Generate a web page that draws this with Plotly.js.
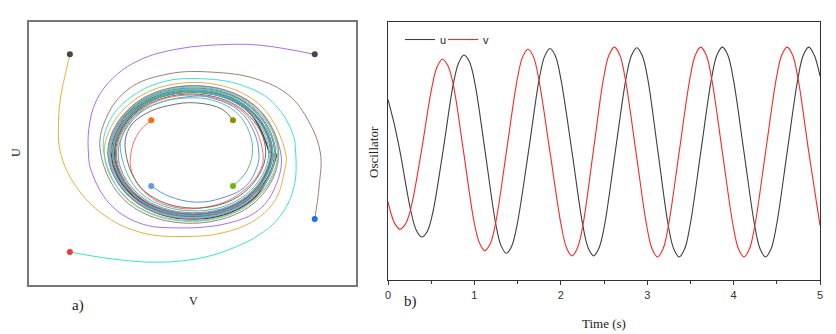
<!DOCTYPE html>
<html>
<head>
<meta charset="utf-8">
<script src="https://cdn.plot.ly/plotly-3.0.1.min.js"></script>
<style>html,body{margin:0;padding:0;background:#fff;}#chart{width:836px;height:334px;}</style>
</head>
<body>
<div id="chart"></div>
<script>
// ---- Panel a: phase portrait (V horizontal, U vertical) ----
const startV = [-3.03, 3.02, -1.02, 1.0, -1.02, 1.0, 3.02, -3.03];
const startU = [2.99, 2.99, 0.99, 0.99, -1.0, -1.0, -2.0, -3.0];
const startColors = ['#464646', '#464646', '#ff6a13', '#8f8f00', '#6a9ad8', '#6cb800', '#1f6fe8', '#f03a3a'];

const purpleV = [3.02, 1.72, 0.90, -0.33, -1.32, -1.98, -2.39, -2.56, -2.57, -2.51, -2.06, -1.32, -0.33, 0.90, 1.64, 2.05, 2.18, 1.52, 0, -1.49, -2.09, -1.47, 0, 1.455, 2.05, 1.444, 0, -1.435, -2.026, -1.43, 0, 1.425, 2.014];
const purpleU = [2.99, 3.26, 3.29, 3.16, 2.81, 2.25, 1.55, 0.74, -0.03, -0.51, -1.52, -2.12, -2.27, -2.12, -1.72, -1.01, 0, 1.46, 2.045, 1.43, 0, -1.41, -1.985, -1.40, 0, 1.387, 1.955, 1.378, 0, -1.373, -1.937, -1.369, 0];

const goldV = [-3.03, -3.13, -3.25, -3.31, -3.26, -2.88, -2.14, -1.24, -0.25, 0.74, 1.56, 2.05, 2.26, 2.30, 1.60, 0, -1.555, -2.18, -1.524, 0, 1.495, 2.098, 1.473, 0, -1.458, -2.054, -1.447, 0, 1.438, 2.03];
const goldU = [2.99, 2.45, 1.75, 0.94, 0, -1.01, -1.92, -2.42, -2.53, -2.42, -2.02, -1.41, -0.61, 0, 1.53, 2.14, 1.494, 0, -1.464, -2.05, -1.435, 0, 1.415, 1.989, 1.40, 0, -1.389, -1.958, -1.381, 0];

const brownV = [3.02, 3.13, 3.16, 2.88, 2.38, 1.56, 0.49, -0.58, -1.57, -2.14, -2.27, -1.59, 0, 1.548, 2.13, 1.51, 0, -1.485, -2.086, -1.466, 0, 1.454, 2.048, 1.444, 0, -1.437, -2.028];
const brownU = [-2.0, -1.0, 0, 0.94, 1.75, 2.25, 2.45, 2.40, 1.95, 1.04, 0, -1.528, -2.13, -1.487, 0, 1.45, 2.031, 1.426, 0, -1.408, -1.981, -1.396, 0, 1.387, 1.955, 1.38, 0];

const cyanV = [-3.03, -1.98, -0.91, 0.08, 0.90, 1.72, 2.22, 2.51, 2.55, 2.46, 1.97, 1.23, 0.24, -0.75, -1.57, -2.06, -2.19, -1.541, 0, 1.513, 2.12, 1.488, 0, -1.469, -2.068, -1.456, 0, 1.445, 2.038, 1.437, 0, -1.431, -2.02];
const cyanU = [-3.0, -3.21, -3.31, -3.21, -2.93, -2.42, -1.82, -1.01, 0, 0.64, 1.55, 2.05, 2.25, 2.15, 1.65, 0.94, 0, -1.48, -2.074, -1.453, 0, 1.429, 2.006, 1.411, 0, -1.399, -1.97, -1.388, 0, 1.38, 1.947, 1.374, 0];

const redV = [-1.02, -1.32, -1.52, -1.49, -1.07, -0.33, 0.41, 1.07, 1.64, 1.74, 1.273, 0, -1.312, -1.88, -1.343, 0, 1.365, 1.942, 1.38, 0, -1.391, -1.974, -1.398, 0, 1.404, 1.988];
const redU = [0.99, 0.64, 0, -0.61, -1.31, -1.67, -1.62, -1.31, -0.61, 0, 1.222, 1.757, 1.26, 0, -1.29, -1.839, -1.31, 0, 1.325, 1.882, 1.336, 0, -1.343, -1.903, -1.348, 0];

const blueV = [-1.02, -0.58, 0.08, 0.74, 1.31, 1.60, 1.64, 1.52, 1.15, 0.57, 0, -1.28, -1.84, -1.319, 0, 1.348, 1.922, 1.369, 0, -1.384, -1.966, -1.394, 0, 1.401, 1.986, 1.406, 0];
const blueU = [-1.0, -1.31, -1.49, -1.36, -1.01, -0.40, 0, 0.64, 1.28, 1.63, 1.72, 1.229, 0, -1.267, -1.812, -1.294, 0, 1.315, 1.87, 1.329, 0, -1.339, -1.899, -1.346, 0, 1.35, 1.91];

const greenV = [1.0, 1.31, 1.48, 1.40, 1.07, 0.49, -0.09, -0.75, -1.40, -1.73, -1.77, -1.273, 0, 1.315, 1.884, 1.346, 0, -1.367, -1.946, -1.383, 0, 1.393, 1.976, 1.40, 0, -1.404, -1.988, -1.407];
const greenU = [-1.0, -0.61, 0, 0.64, 1.24, 1.60, 1.67, 1.55, 1.14, 0.54, 0, -1.222, -1.757, -1.263, 0, 1.293, 1.843, 1.313, 0, -1.328, -1.885, -1.338, 0, 1.344, 1.905, 1.349, 0, -1.351];

const grayV = [1.0, 0.74, 0.08, -0.58, -1.16, -1.57, -1.65, -1.195, 0, 1.258, 1.81, 1.301, 0, -1.333, -1.904, -1.357, 0, 1.374, 1.954, 1.387, 0, -1.396, -1.978, -1.401, 0, 1.406, 1.99];
const grayU = [0.99, 1.32, 1.52, 1.44, 1.19, 0.74, 0, -1.148, -1.67, -1.209, 0, 1.249, 1.789, 1.281, 0, -1.304, -1.857, -1.32, 0, 1.332, 1.889, 1.34, 0, -1.346, -1.907, -1.35, 0];

// dark core of the limit-cycle band
const coreV = [1.9, 1.349, 0, -1.362, -1.934, -1.373, 0, 1.384, 1.966, 1.397, 0, -1.408, -2.0, -1.42, 0, 1.432, 2.034, 1.444, 0, -1.455, -2.066, -1.468, 0, 1.479, 2.1];
const coreU = [0, 1.296, 1.839, 1.308, 0, -1.319, -1.872, -1.329, 0, 1.342, 1.905, 1.353, 0, -1.363, -1.935, -1.376, 0, 1.387, 1.968, 1.397, 0, -1.41, -2.001, -1.42, 0];

// ---- Panel b: time series ----
const tU = [0, 0.07, 0.14, 0.265, 0.3275, 0.39, 0.4525, 0.515, 0.635, 0.755, 0.8175, 0.88, 0.9425, 1.005, 1.125, 1.245, 1.3075, 1.37, 1.4325, 1.495, 1.625, 1.75, 1.8125, 1.875, 1.9375, 2.0, 2.13, 2.255, 2.3175, 2.38, 2.4425, 2.505, 2.63, 2.755, 2.8175, 2.88, 2.9425, 3.005, 3.125, 3.245, 3.3075, 3.37, 3.4325, 3.495, 3.62, 3.745, 3.8075, 3.87, 3.9325, 3.995, 4.12, 4.245, 4.3075, 4.37, 4.4325, 4.495, 4.62, 4.745, 4.8075, 4.87, 4.9325, 5.0];
const uVals = [1.0, 0.55, 0, -1.13, -1.49, -1.62, -1.52, -1.18, 0, 1.29, 1.70, 1.85, 1.72, 1.32, 0, -1.35, -1.78, -1.93, -1.79, -1.38, 0, 1.39, 1.825, 1.975, 1.83, 1.40, 0, -1.40, -1.83, -1.98, -1.83, -1.405, 0, 1.405, 1.84, 1.99, 1.84, 1.41, 0, -1.41, -1.85, -2.0, -1.85, -1.41, 0, 1.41, 1.85, 2.0, 1.85, 1.41, 0, -1.41, -1.85, -2.0, -1.85, -1.41, 0, 1.41, 1.85, 2.0, 1.85, 1.45];
const tV = [0, 0.0775, 0.14, 0.2025, 0.265, 0.385, 0.505, 0.5675, 0.63, 0.6925, 0.755, 0.875, 0.995, 1.0575, 1.12, 1.1825, 1.245, 1.37, 1.495, 1.5575, 1.62, 1.6825, 1.745, 1.875, 2.005, 2.0675, 2.13, 2.1925, 2.255, 2.375, 2.495, 2.5575, 2.62, 2.6825, 2.745, 2.87, 2.995, 3.0575, 3.12, 3.1825, 3.245, 3.37, 3.495, 3.5575, 3.62, 3.6825, 3.745, 3.87, 3.995, 4.0575, 4.12, 4.1825, 4.245, 4.37, 4.495, 4.5575, 4.62, 4.6825, 4.745, 4.87, 5.0];
const vVals = [-0.95, -1.36, -1.47, -1.37, -1.07, 0, 1.21, 1.62, 1.77, 1.65, 1.29, 0, -1.32, -1.73, -1.88, -1.75, -1.36, 0, 1.38, 1.81, 1.96, 1.82, 1.39, 0, -1.40, -1.83, -1.98, -1.83, -1.405, 0, 1.41, 1.85, 2.0, 1.85, 1.41, 0, -1.41, -1.85, -2.0, -1.85, -1.41, 0, 1.41, 1.85, 2.0, 1.85, 1.41, 0, -1.41, -1.85, -2.0, -1.85, -1.41, 0, 1.41, 1.85, 2.0, 1.85, 1.41, 0, -1.40];
const timeTicks = [0, 1, 2, 3, 4, 5];

const serif = '"Liberation Serif", "Times New Roman", serif';
const sans = '"Liberation Sans", Arial, sans-serif';

function traj(xs, ys, color, width) {
  return {x: xs, y: ys, type: 'scatter', mode: 'lines', xaxis: 'x', yaxis: 'y',
    line: {color: color, width: width || 1, shape: 'spline', smoothing: 1.1, simplify: false},
    showlegend: false, hoverinfo: 'skip'};
}

const traces = [
  traj(coreV, coreU, '#4a4242', 1.5),
  traj(goldV, goldU, '#e4b23c'),
  traj(purpleV, purpleU, '#a96fee'),
  traj(brownV, brownU, '#a27c7c'),
  traj(cyanV, cyanU, '#3edede'),
  traj(redV, redU, '#ff6e6e'),
  traj(grayV, grayU, '#6e6e6e'),
  traj(blueV, blueU, '#5b92ee'),
  traj(greenV, greenU, '#5cbf8c'),
  {x: startV, y: startU, type: 'scatter', mode: 'markers', xaxis: 'x', yaxis: 'y',
    marker: {color: startColors, size: 6}, showlegend: false, hoverinfo: 'skip'},
  {x: tU, y: uVals, type: 'scatter', mode: 'lines', name: 'u', xaxis: 'x2', yaxis: 'y2', legend: 'legend',
    line: {color: '#3f3f3f', width: 1.1, shape: 'spline', smoothing: 1, simplify: false}},
  {x: tV, y: vVals, type: 'scatter', mode: 'lines', name: 'v', xaxis: 'x2', yaxis: 'y2', legend: 'legend2',
    line: {color: '#f62a2a', width: 1.1, shape: 'spline', smoothing: 1, simplify: false}}
];

function px(x) { return x / 836; }
function py(y) { return 1 - y / 334; }
function note(text, x, y, size, angle) {
  return {text: text, x: px(x), y: py(y), xref: 'paper', yref: 'paper', xanchor: 'center', yanchor: 'middle',
    showarrow: false, textangle: angle || 0, font: {family: serif, size: size, color: '#222'}};
}
function legendAt(x) {
  return {orientation: 'h', x: px(x), y: py(25), xanchor: 'left', yanchor: 'top',
    font: {family: sans, size: 11, color: '#222'}, bgcolor: 'rgba(0,0,0,0)', borderwidth: 0, itemwidth: 30};
}

const layout = {
  width: 836, height: 334,
  margin: {l: 0, r: 0, t: 0, b: 0},
  paper_bgcolor: '#ffffff', plot_bgcolor: '#ffffff',
  showlegend: true,
  xaxis: {domain: [px(29), px(356)], range: [-4.04, 4.04], showgrid: false, zeroline: false,
    showticklabels: false, ticks: '', showline: true, mirror: true, linecolor: '#777777', linewidth: 2},
  yaxis: {domain: [py(285), py(22)], range: [-4.0, 3.97], showgrid: false, zeroline: false,
    showticklabels: false, ticks: '', showline: true, mirror: true, linecolor: '#777777', linewidth: 2},
  xaxis2: {domain: [px(388), px(820)], anchor: 'y2', range: [0, 5], tickvals: timeTicks,
    ticks: 'outside', ticklen: 4, tickwidth: 1, tickcolor: '#333',
    minor: {ticks: 'outside', ticklen: 3, dtick: 0.5, tick0: 0, tickcolor: '#333', tickwidth: 1},
    showline: true, mirror: true, linecolor: '#333333', linewidth: 1.3, showgrid: false, zeroline: false,
    tickfont: {family: sans, size: 11, color: '#333'}},
  yaxis2: {domain: [py(280), py(22)], anchor: 'x2', range: [-2.44, 2.48], showticklabels: false, ticks: '',
    showline: true, mirror: true, linecolor: '#333333', linewidth: 1.3, showgrid: false, zeroline: false},
  legend: legendAt(400),
  legend2: legendAt(443),
  annotations: [
    note('a)', 78, 305, 15),
    note('V', 193, 301, 12),
    note('U', 16, 153, 12, -90),
    note('Oscillator', 373, 152, 13, -90),
    note('b)', 410, 301, 15),
    note('Time (s)', 604, 323, 13)
  ]
};

Plotly.newPlot('chart', traces, layout, {staticPlot: true, displayModeBar: false});
</script>
</body>
</html>
